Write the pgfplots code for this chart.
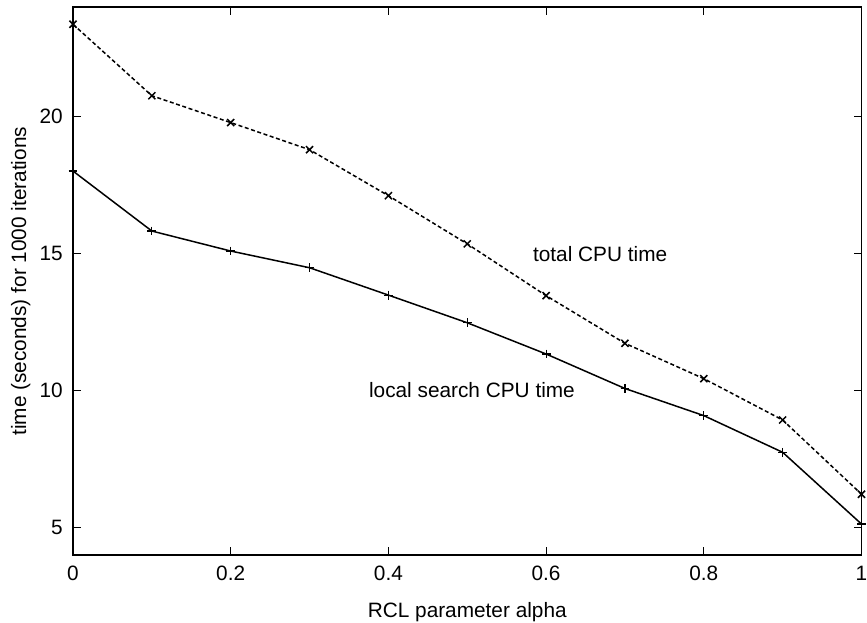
\documentclass[border=0pt]{standalone}
\usepackage{fontspec}
\setmainfont{Liberation Sans}
\usepackage{pgfplots}
\pgfplotsset{compat=1.18}

\begin{document}
\fontsize{10.4}{12.5}\selectfont
\begin{tikzpicture}
  \begin{axis}[
    scale only axis,
    width=394.25pt, height=273.85pt,
    xmin=0, xmax=1, ymin=4, ymax=24,
    xtick={0,0.2,0.4,0.6,0.8,1},
    ytick={5,10,15,20},
    tick align=inside,
    major tick length=3.9pt,
    axis line style={line width=0.8pt},
    tick style={black, line width=0.6pt},
    /pgf/number format/assume math mode=true,
    xticklabel style={yshift=-2pt},
    yticklabel style={xshift=-1.5pt},
    xlabel={RCL parameter alpha},
    ylabel={time (seconds) for 1000 iterations},
    xlabel style={at={(axis description cs:0.5,-0.1141)}, anchor=base},
    ylabel style={at={(axis description cs:-0.0596,0.5)}, anchor=base},
    clip=false,
  ]
    % total CPU time
    \addplot[black, line width=0.75pt, dash pattern=on 2pt off 1.3pt,
      mark=x, mark size=2.5pt, mark options={solid, line width=0.75pt}]
      coordinates {(0,23.38) (0.1,20.77) (0.2,19.79) (0.3,18.80) (0.4,17.12)
                   (0.5,15.36) (0.6,13.47) (0.7,11.73) (0.8,10.44) (0.9,8.93) (1,6.22)};
    % local search CPU time
    \addplot[black, line width=0.75pt,
      mark=+, mark size=2.2pt, mark options={line width=0.6pt}]
      coordinates {(0,18.02) (0.1,15.83) (0.2,15.10) (0.3,14.49) (0.4,13.49)
                   (0.5,12.48) (0.6,11.34) (0.7,10.08) (0.8,9.09) (0.9,7.75) (1,5.13)};
    \node[anchor=west, inner sep=0pt] at (axis cs:0.583,15.0) {total CPU time};
    \node[anchor=west, inner sep=0pt] at (axis cs:0.375,10.02) {local search CPU time};
  \end{axis}
  \pgfresetboundingbox
  \path[use as bounding box]
    ([xshift=-36.5pt,yshift=-33.5pt]current axis.south west)
    rectangle ([xshift=2.75pt,yshift=3.65pt]current axis.north east);
\end{tikzpicture}
\end{document}
